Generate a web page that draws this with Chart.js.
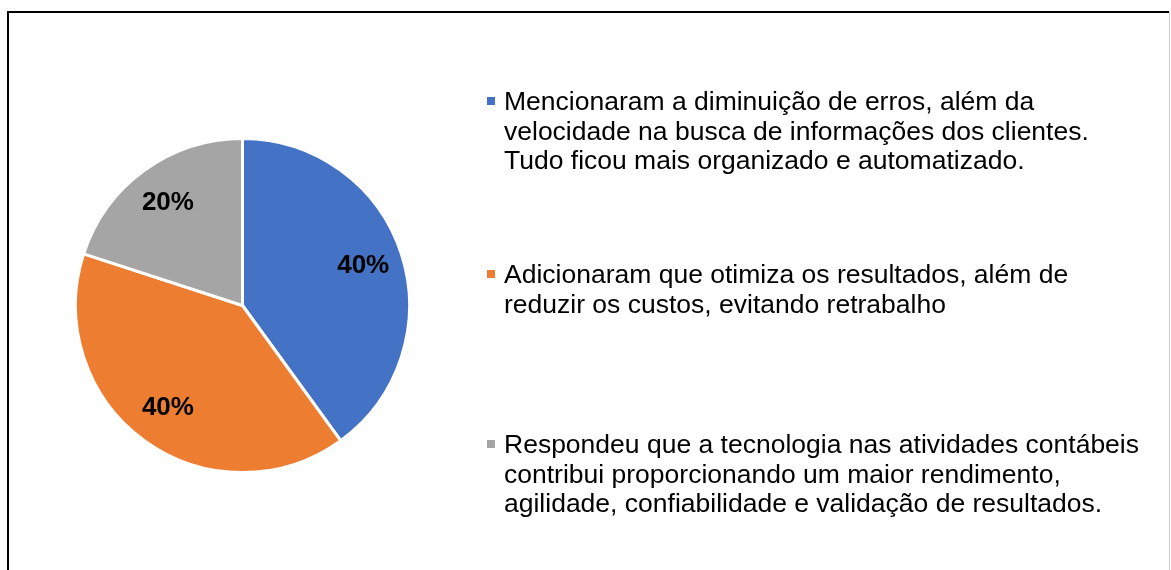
<!DOCTYPE html>
<html>
<head>
<meta charset="utf-8">
<script src="https://cdn.jsdelivr.net/npm/chart.js@4"></script>
<style>
  body { margin: 0; background: #fff; }
</style>
</head>
<body>
<canvas id="pieChart" width="1171" height="570"></canvas>
<script>
// categories (each label split into the lines shown in the legend)
var categories = [
  ["Mencionaram a diminuição de erros, além da",
   "velocidade na busca de informações dos clientes.",
   "Tudo ficou mais organizado e automatizado."],
  ["Adicionaram que otimiza os resultados, além de",
   "reduzir os custos, evitando retrabalho"],
  ["Respondeu que a tecnologia nas atividades contábeis",
   "contribui proporcionando um maior rendimento,",
   "agilidade, confiabilidade e validação de resultados."]
];
var values = [40, 40, 20];
var colors = ["#4472C4", "#ED7D31", "#A5A5A5"];

var FONT = '"Liberation Sans", Arial, sans-serif';

// frame around the whole figure
var framePlugin = {
  id: "frame",
  beforeDraw: function (chart) {
    var ctx = chart.ctx;
    ctx.save();
    ctx.fillStyle = "#000";
    ctx.fillRect(7, 11, 2, chart.height - 11);
    ctx.fillRect(7, 11, 1162, 2);
    ctx.fillStyle = "#cfcfcf";
    ctx.fillRect(1169, 11, 1, chart.height - 11);
    ctx.restore();
  }
};

// percentage labels inside the slices
var sliceLabels = {
  id: "sliceLabels",
  afterDatasetsDraw: function (chart) {
    var ctx = chart.ctx;
    var meta = chart.getDatasetMeta(0);
    var total = values.reduce(function (a, b) { return a + b; }, 0);
    ctx.save();
    ctx.font = "bold 26px " + FONT;
    ctx.fillStyle = "#000";
    ctx.textAlign = "center";
    ctx.textBaseline = "middle";
    meta.data.forEach(function (arc, i) {
      var p = arc.getProps(["x", "y", "startAngle", "endAngle", "outerRadius"], true);
      var mid = (p.startAngle + p.endAngle) / 2;
      var r = p.outerRadius * 0.76;
      var pct = Math.round(values[i] / total * 100) + "%";
      ctx.fillText(pct, p.x + Math.cos(mid) * r, p.y + Math.sin(mid) * r);
    });
    ctx.restore();
  }
};

// legend on the right, multi-line entries
var sideLegend = {
  id: "sideLegend",
  afterDraw: function (chart, args, opts) {
    var ctx = chart.ctx;
    ctx.save();
    ctx.font = opts.fontSize + "px " + FONT;
    ctx.textBaseline = "alphabetic";
    ctx.textAlign = "left";
    chart.data.labels.forEach(function (lines, i) {
      var base = opts.baselines[i];
      ctx.fillStyle = chart.data.datasets[0].backgroundColor[i];
      ctx.fillRect(opts.boxX, base - 13, 8, 8);
      ctx.fillStyle = "#000";
      lines.forEach(function (line, j) {
        ctx.fillText(line, opts.textX, base + j * opts.lineHeight);
      });
    });
    ctx.restore();
  }
};

var ctx = document.getElementById("pieChart").getContext("2d");
var myChart = new Chart(ctx, {
  type: "pie",
  data: {
    labels: categories,
    datasets: [
      {
        data: values,
        backgroundColor: colors,
        borderColor: "#ffffff",
        borderWidth: 3,
      },
    ],
  },
  options: {
    responsive: false,
    animation: false,
    layout: {
      padding: { left: 74, top: 137, right: 760, bottom: 96 },
    },
    plugins: {
      legend: { display: false },
      tooltip: { enabled: false },
      sideLegend: {
        fontSize: 26.5,
        boxX: 487,
        textX: 504,
        lineHeight: 29.5,
        baselines: [110, 283, 453],
      },
    },
  },
  plugins: [framePlugin, sliceLabels, sideLegend],
});
</script>
</body>
</html>
